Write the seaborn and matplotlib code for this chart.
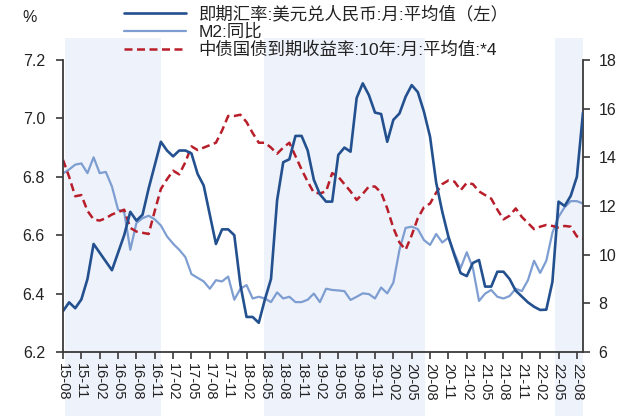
import numpy as np
import pandas as pd
import matplotlib
matplotlib.use("Agg")
import matplotlib.pyplot as plt
import seaborn as sns

# ---------------- data ----------------
months = pd.period_range("2015-08", "2022-09", freq="M").strftime("%y-%m").tolist()

usdcny = [6.34, 6.37, 6.35, 6.38, 6.45, 6.57, 6.54, 6.51, 6.48, 6.54, 6.60, 6.68,
          6.65, 6.67, 6.76, 6.84, 6.92, 6.89, 6.87, 6.89, 6.89, 6.88, 6.81, 6.77,
          6.67, 6.57, 6.62, 6.62, 6.60, 6.43, 6.32, 6.32, 6.30, 6.38, 6.45, 6.72,
          6.85, 6.86, 6.94, 6.94, 6.89, 6.79, 6.74, 6.715, 6.715, 6.875, 6.90, 6.886,
          7.07, 7.12, 7.08, 7.02, 7.015, 6.92, 6.995, 7.017, 7.074, 7.114, 7.09, 7.023,
          6.937, 6.78, 6.68, 6.595, 6.53, 6.47, 6.46, 6.505, 6.515, 6.424, 6.424, 6.475,
          6.475, 6.45, 6.41, 6.39, 6.37, 6.355, 6.344, 6.345, 6.44, 6.715, 6.70, 6.735,
          6.80, 7.02]

m2_yoy = [13.34, 13.5, 13.7, 13.75, 13.35, 14.0, 13.35, 13.4, 12.8, 11.85, 11.75, 10.2,
          11.3, 11.5, 11.6, 11.45, 11.2, 10.75, 10.45, 10.2, 9.9, 9.2, 9.05, 8.9,
          8.6, 8.95, 8.9, 9.1, 8.15, 8.6, 8.75, 8.2, 8.27, 8.2, 8.05, 8.45,
          8.2, 8.27, 8.05, 8.05, 8.15, 8.4, 8.05, 8.6, 8.55, 8.53, 8.5, 8.14,
          8.27, 8.41, 8.38, 8.2, 8.65, 8.41, 8.85, 10.2, 11.1, 11.15, 11.05, 10.6,
          10.4, 10.85, 10.5, 10.7, 10.05, 9.45, 10.1, 9.45, 8.1, 8.4, 8.55, 8.27,
          8.2, 8.3, 8.6, 8.5, 8.95, 9.75, 9.25, 9.75, 10.9, 11.55, 11.95, 12.2,
          12.2, 12.1]

cgb10y_x4 = [13.9, 13.2, 12.4, 12.45, 11.8, 11.45, 11.4, 11.5, 11.65, 11.75, 11.85, 11.1,
             10.95, 10.9, 10.85, 11.8, 12.7, 13.1, 13.45, 13.3, 13.8, 14.45, 14.3, 14.4,
             14.5, 14.6, 15.1, 15.7, 15.7, 15.75, 15.45, 15.0, 14.6, 14.6, 14.4, 14.15,
             14.4, 14.6, 14.05, 13.5, 13.0, 12.55, 12.52, 12.6, 13.35, 13.2, 12.9, 12.6,
             12.25, 12.5, 12.8, 12.8, 12.55, 11.9, 11.1, 10.5, 10.2, 10.8, 11.5, 11.95,
             12.1, 12.55, 12.9, 13.05, 13.0, 12.65, 12.95, 12.9, 12.6, 12.45, 12.3, 11.85,
             11.45, 11.6, 11.9, 11.55, 11.3, 11.05, 11.15, 11.22, 11.18, 11.12, 11.18, 11.15,
             10.75, 10.65]

labels = ["即期汇率:美元兑人民币:月:平均值（左）", "M2:同比", "中债国债到期收益率:10年:月:平均值:*4"]
shade_periods = [(0.3, 16.1), (32.9, 59.2), (80.4, 85.0)]
left_ticks = [6.2, 6.4, 6.6, 6.8, 7.0, 7.2]
right_ticks = [6, 8, 10, 12, 14, 16, 18]

# ---------------- style ----------------
sns.set_theme(style="white")
plt.rcParams["font.family"] = ["Liberation Sans", "Noto Sans CJK SC", "DejaVu Sans"]
plt.rcParams["axes.unicode_minus"] = False

df = pd.DataFrame({"idx": np.arange(len(months)), "month": months,
                   "fx": usdcny, "m2": m2_yoy, "cgb": cgb10y_x4})

c_fx = "#23508f"
c_m2 = "#7e9ed2"
c_cgb = "#b81d2a"
c_spine = "#3a3a3a"
c_shade = "#eef2fa"

fig = plt.figure(figsize=(6.4, 4.16), dpi=100)
ax = fig.add_axes([63 / 640, 64 / 416, 520 / 640, 292 / 416])
ax2 = ax.twinx()
ax.set_zorder(ax2.get_zorder() + 1)
ax.patch.set_visible(False)

for a, b in shade_periods:
    ax2.axvspan(a, b, ymin=-0.22, ymax=1.075, color=c_shade, lw=0,
                clip_on=False, zorder=0)

sns.lineplot(data=df, x="idx", y="m2", ax=ax2, color=c_m2, lw=1.6, label=labels[1], legend=False)
sns.lineplot(data=df, x="idx", y="cgb", ax=ax2, color=c_cgb, lw=1.8,
             linestyle=(0, (3.2, 1.8)), label=labels[2], legend=False)
sns.lineplot(data=df, x="idx", y="fx", ax=ax, color=c_fx, lw=1.9, label=labels[0], legend=False)

ax.set_xlim(0, len(months) - 1)
ax.set_ylim(6.2, 7.2)
ax2.set_ylim(6, 18)
ax.set_yticks(left_ticks)
ax.set_yticklabels([f"{v:.1f}" for v in left_ticks])
ax2.set_yticks(right_ticks)
ax2.set_yticklabels([str(v) for v in right_ticks])

xt = list(range(0, len(months), 3))
ax.set_xticks(xt)
ax.set_xticklabels([months[i] for i in xt], rotation=270, fontsize=10.5)

for a in (ax, ax2):
    a.set_xlabel("")
    a.set_ylabel("")
    a.grid(False)
    for s in a.spines.values():
        s.set_color(c_spine)
        s.set_linewidth(1.3)
    a.spines["top"].set_visible(False)

ax.spines["right"].set_visible(False)
ax2.spines["left"].set_visible(False)
ax2.spines["bottom"].set_visible(False)

ax.tick_params(axis="y", which="major", direction="out", length=5, width=1.2,
               color=c_spine, labelsize=11.5, labelcolor="#222222", left=True, pad=8)
ax.tick_params(axis="x", which="major", direction="out", length=5, width=1.2,
               color=c_spine, labelcolor="#222222", bottom=True, pad=3)
ax2.tick_params(axis="y", which="major", direction="out", length=5, width=1.2,
                color=c_spine, labelsize=11.5, labelcolor="#222222", right=True, pad=6)

fig.text(22 / 640, 1 - 18 / 416, "%", fontsize=11.5, color="#222222", va="center", ha="left")

handles = ax.get_lines()[:1] + ax2.get_lines()[:2]
leg = ax.legend(handles, labels, loc="upper left", bbox_to_anchor=(123.5 / 640, 1 - 5 / 416),
                bbox_transform=fig.transFigure, frameon=False, fontsize=12.5,
                handlelength=3.6, handletextpad=0.72, labelspacing=0.1, borderaxespad=0,
                borderpad=0)
for t in leg.get_texts():
    t.set_color("#222222")

fig.savefig("out.png", dpi=100)
